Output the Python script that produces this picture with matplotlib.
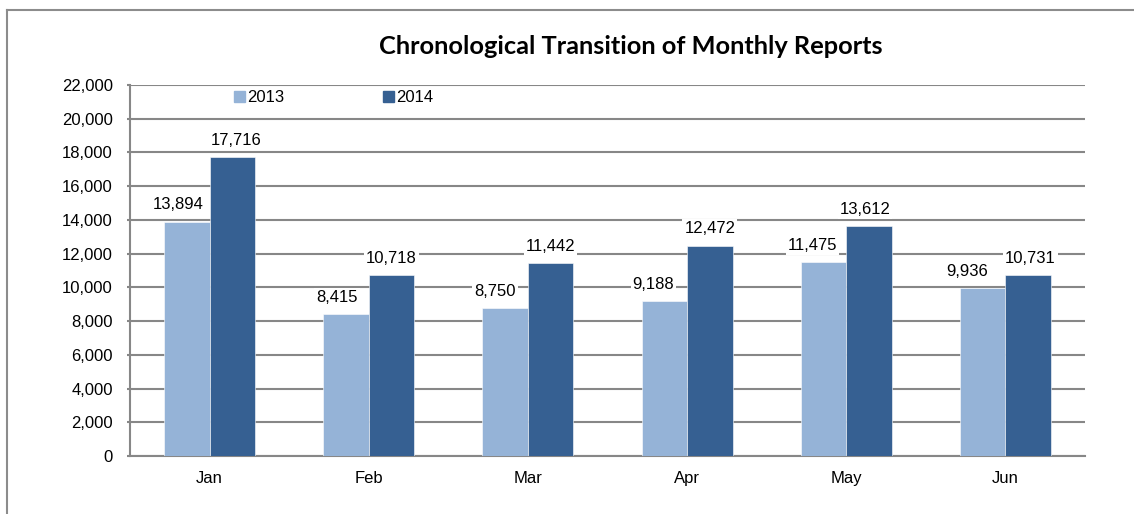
import numpy as np
import matplotlib
matplotlib.use("Agg")
from matplotlib import pyplot as plt
from matplotlib.patches import Patch
from matplotlib.lines import Line2D

plt.rcParams['font.family'] = ['Liberation Sans', 'DejaVu Sans']

months = ['Jan', 'Feb', 'Mar', 'Apr', 'May', 'Jun']
reports_2013 = [13894, 8415, 8750, 9188, 11475, 9936]
reports_2014 = [17716, 10718, 11442, 12472, 13612, 10731]
yticks = np.arange(0, 22001, 2000)

# label nudges in pixels (Excel moved some labels sideways)
dx_2013 = [-9, -9, -10, -11, -11, -16]
dx_2014 = [4, 0, 0, 0, -4, 2]

c13 = '#95b3d7'
c14 = '#366092'
grey = '#878787'
W, H = 1134, 514
fs = 12

fig = plt.figure(figsize=(W / 100, H / 100), dpi=100)
ax = fig.add_axes([130 / W, 1 - 456 / H, 955 / W, 371 / H])

x = np.arange(len(months))
bw = 0.286
b1 = ax.bar(x - bw / 2, reports_2013, bw, color=c13, edgecolor='white', linewidth=0.4, zorder=3)
b2 = ax.bar(x + bw / 2, reports_2014, bw, color=c14, edgecolor='white', linewidth=0.4, zorder=3)

for bars, vals, dxs in [(b1, reports_2013, dx_2013), (b2, reports_2014, dx_2014)]:
    for b, v, d in zip(bars, vals, dxs):
        ax.annotate(f'{v:,}', (b.get_x() + b.get_width() / 2, v),
                    xytext=(d * 0.72, 17 * 0.72), textcoords='offset points',
                    ha='center', va='center', fontsize=fs, zorder=4,
                    bbox=dict(facecolor='white', edgecolor='none', pad=1.5))

ax.set_xlim(-0.5, len(months) - 0.5)
ax.set_ylim(0, 22000)
ax.set_yticks(yticks)
ax.set_yticklabels([f'{t:,}' for t in yticks])
ax.set_xticks(x)
ax.set_xticklabels(months)
ax.yaxis.grid(True, color=grey, linewidth=1.5, zorder=0)
ax.set_axisbelow(True)
ax.tick_params(axis='y', length=2, width=1.5, color=grey, pad=10.5, labelsize=fs)
ax.tick_params(axis='x', length=0, pad=11, labelsize=fs)
for s in ['top', 'right']:
    ax.spines[s].set_visible(False)
for s in ['left', 'bottom']:
    ax.spines[s].set_color(grey)
    ax.spines[s].set_linewidth(1.5)

ax.legend(handles=[Patch(color=c13, label='2013'), Patch(color=c14, label='2014')],
          loc='center left', bbox_to_anchor=((234 - 130) / 955, (456 - 98) / 371),
          ncol=2, frameon=False, fontsize=fs, handlelength=0.65, handleheight=0.65,
          handletextpad=0.15, columnspacing=5.9, borderaxespad=0, borderpad=0)

fig.text(630.5 / W, 1 - 47 / H, 'Chronological Transition of Monthly Reports',
         ha='center', va='center', fontsize=18.3, fontweight='bold', family=['Lato', 'DejaVu Sans'])

# outer chart border (only left and top visible in the crop)
fig.add_artist(Line2D([7 / W, 7 / W], [0, 1 - 10 / H], color='#8c8c8c', linewidth=1.5))
fig.add_artist(Line2D([7 / W, 1], [1 - 10 / H, 1 - 10 / H], color='#8c8c8c', linewidth=1.5))

fig.savefig('out.png', dpi=100)
